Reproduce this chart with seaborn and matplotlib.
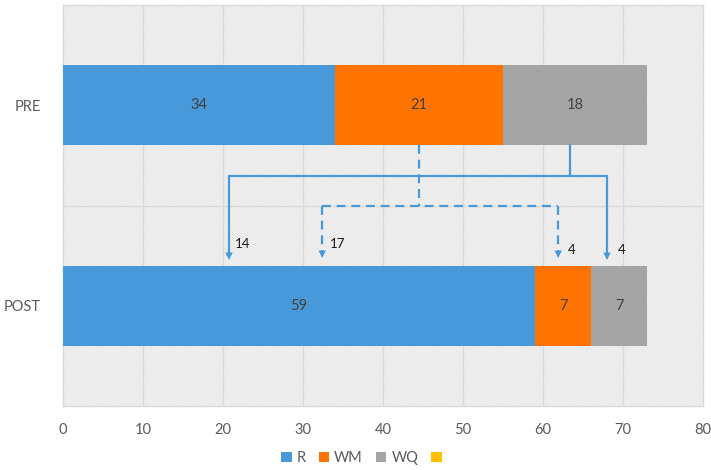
import matplotlib
matplotlib.use("Agg")
import matplotlib.pyplot as plt
import seaborn as sns
import pandas as pd
import numpy as np
from matplotlib.patches import Rectangle, Patch

# ---- data ----
categories = ["PRE", "POST"]
series_names = ["R", "WM", "WQ"]
r_values = [34, 59]
wm_values = [21, 7]
wq_values = [18, 7]
legend_labels = ["R", "WM", "WQ", ""]
colors = ["#4899D9", "#FF7300", "#A5A5A5", "#FFC000"]
x_ticks = [0, 10, 20, 30, 40, 50, 60, 70, 80]

# flow annotations (transfers from PRE to POST)
solid_src_x = 63.4
solid_targets_x = [20.75, 68.0]
solid_counts = ["14", "4"]
dashed_src_x = 44.5
dashed_targets_x = [32.4, 61.9]
dashed_counts = ["17", "4"]

sns.set_theme(style="white")
plt.rcParams["font.family"] = ["Lato", "DejaVu Sans"]
plt.rcParams["hatch.color"] = "#dadada"
plt.rcParams["hatch.linewidth"] = 0.6

df = pd.DataFrame({"cat": categories, "R": r_values, "WM": wm_values, "WQ": wq_values})
df["c_R"] = df["R"]
df["c_WM"] = df["R"] + df["WM"]
df["c_WQ"] = df["R"] + df["WM"] + df["WQ"]

fig = plt.figure(figsize=(7.11, 4.70), dpi=100)
ax = fig.add_axes([63 / 711, 1 - 406 / 470, (703 - 63) / 711, (406 - 5) / 470])

# hatched background
bg = Rectangle((0, 0), 1, 1, transform=ax.transAxes, facecolor="white",
               edgecolor="#dadada", hatch="\\" * 14, lw=0, zorder=0)
ax.add_patch(bg)

for col, c in zip(["c_WQ", "c_WM", "c_R"], [colors[2], colors[1], colors[0]]):
    sns.barplot(data=df, x=col, y="cat", orient="h", color=c, width=0.4,
                saturation=1, ax=ax, zorder=3, linewidth=0)

ax.set_xlim(0, 80)
ax.set_ylim(1.5, -0.5)
ax.set_xticks(x_ticks)
ax.set_xlabel("")
ax.set_ylabel("")
for v in x_ticks[1:-1]:
    ax.axvline(v, color="#d9d9d9", lw=1, zorder=1)
ax.axhline(0.5, color="#d9d9d9", lw=1, zorder=1)
for s in ax.spines.values():
    s.set_color("#d9d9d9")
    s.set_linewidth(1)
ax.tick_params(axis="x", length=0, pad=12, labelsize=10.5, labelcolor="#595959")
ax.tick_params(axis="y", length=0, pad=16, labelsize=10.5, labelcolor="#595959")

# segment labels
for i in range(len(categories)):
    start = 0
    for name in series_names:
        v = df.loc[i, name]
        ax.text(start + v / 2, i, str(v), ha="center", va="center",
                fontsize=10.5, color="#404040", zorder=5)
        start += v

line_c = "#4899D9"
lw = 1.6

def arrowhead(x, tip):
    ax.annotate("", xy=(x, tip), xytext=(x, tip - 0.05),
                arrowprops=dict(arrowstyle="-|>,head_length=0.45,head_width=0.22",
                                color=line_c, lw=0, shrinkA=0, shrinkB=0),
                zorder=6)

# solid flow
y_h = 0.351
tip = 0.772
ax.plot([solid_src_x, solid_src_x], [0.2, y_h], color=line_c, lw=lw, zorder=6)
ax.plot([solid_targets_x[0], solid_targets_x[1]], [y_h, y_h], color=line_c, lw=lw, zorder=6)
for x in solid_targets_x:
    ax.plot([x, x], [y_h, tip - 0.03], color=line_c, lw=lw, zorder=6)
    arrowhead(x, tip)

# dashed flow
y_d = 0.5
tip_d = 0.762
ds = dict(color=line_c, lw=lw, ls=(0, (4, 2.6)), zorder=6)
ax.plot([dashed_src_x, dashed_src_x], [0.2, y_d], **ds)
ax.plot([dashed_targets_x[0], dashed_targets_x[1]], [y_d, y_d], **ds)
for x in dashed_targets_x:
    ax.plot([x, x], [y_d, tip_d - 0.03], **ds)
    arrowhead(x, tip_d)

# flow count labels
ax.text(solid_targets_x[0] + 0.7, 0.69, solid_counts[0], fontsize=9.5, color="#1a1a1a", va="center", zorder=7)
ax.text(dashed_targets_x[0] + 1.0, 0.69, dashed_counts[0], fontsize=9.5, color="#1a1a1a", va="center", zorder=7)
ax.text(dashed_targets_x[1] + 1.2, 0.72, dashed_counts[1], fontsize=9.5, color="#1a1a1a", va="center", zorder=7)
ax.text(solid_targets_x[1] + 1.4, 0.72, solid_counts[1], fontsize=9.5, color="#1a1a1a", va="center", zorder=7)

handles = [Patch(facecolor=c, edgecolor="none") for c in colors]
fig.legend(handles, legend_labels, loc="center", bbox_to_anchor=(364 / 711, 1 - 458 / 470),
           ncol=4, frameon=False, fontsize=10.5, handlelength=0.7, handleheight=0.7,
           handletextpad=0.35, columnspacing=0.9, labelcolor="#595959")

fig.savefig("out.png", dpi=100)
